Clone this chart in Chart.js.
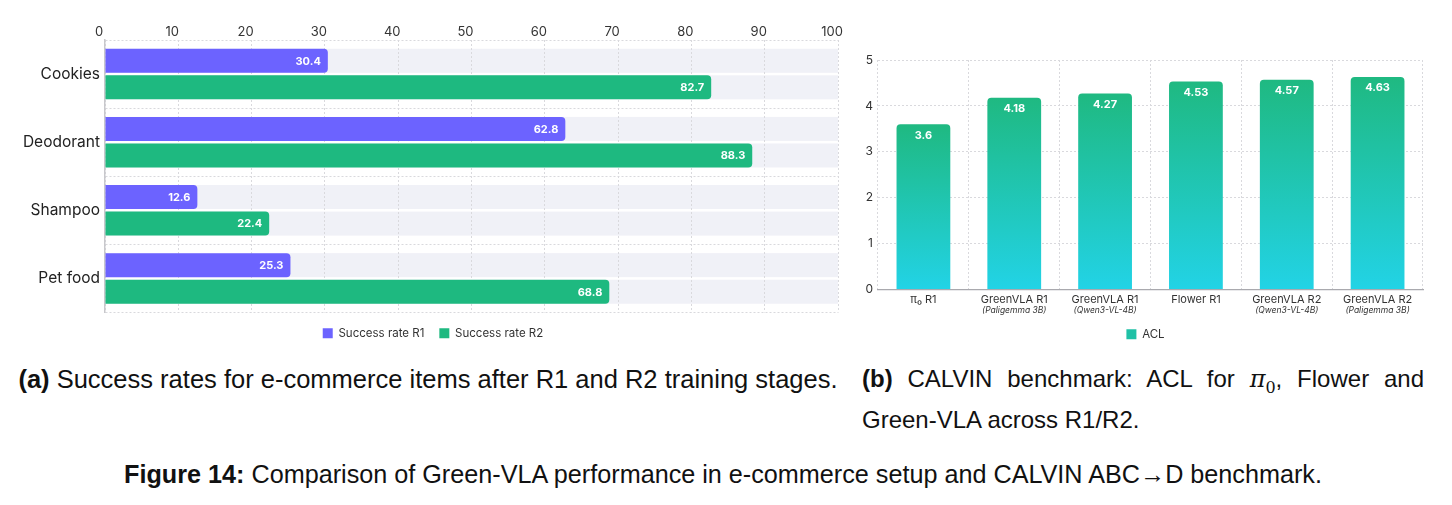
<!DOCTYPE html>
<html>
<head>
<meta charset="utf-8">
<script src="https://cdn.jsdelivr.net/npm/chart.js@4.4.1/dist/chart.umd.min.js"></script>
<style>
  html, body { margin: 0; padding: 0; background: #fff; }
  #page { position: relative; width: 1452px; height: 505px; overflow: hidden; }
  .box { position: absolute; }
  .cap { position: absolute; font-family: "Liberation Sans", Arial, sans-serif; color: #111; white-space: nowrap; }
  #capA { left: 0; top: 364px; width: 856px; text-align: center; font-size: 25.5px; line-height: 30px; }
  #capB { left: 862px; top: 363px; width: 562px; font-size: 24px; line-height: 32px; text-align: justify; text-align-last: left; white-space: normal; }
  #capFig { left: 0; top: 459px; width: 1446px; text-align: center; font-size: 25.2px; line-height: 30px; }
  .pi { font-family: "DejaVu Serif", "Liberation Serif", serif; font-style: italic; }
  .pi sub { font-style: normal; font-size: 16px; }
</style>
</head>
<body>
<div id="page">
  <div class="box" style="left:0; top:0; width:850px; height:349px;"><canvas id="itemsChart"></canvas></div>
  <div class="box" style="left:850px; top:0; width:590px; height:350px;"><canvas id="aclChart"></canvas></div>
  <div class="cap" id="capA"><b>(a)</b> Success rates for e-commerce items after R1 and R2 training stages.</div>
  <div class="cap" id="capB"><b>(b)</b> CALVIN benchmark: ACL for <span class="pi">π<sub>0</sub></span>, Flower and Green-VLA across R1/R2.</div>
  <div class="cap" id="capFig"><b>Figure 14:</b> Comparison of Green-VLA performance in e-commerce setup and CALVIN ABC→D benchmark.</div>
</div>
<script>
// ---- data ----
const itemLabels = ["Cookies", "Deodorant", "Shampoo", "Pet food"];
const rateR1 = [30.4, 62.8, 12.6, 25.3];
const rateR2 = [82.7, 88.3, 22.4, 68.8];
const rateTicks = [0, 10, 20, 30, 40, 50, 60, 70, 80, 90, 100];

const modelNames = ["π₀ R1", "GreenVLA R1", "GreenVLA R1", "Flower R1", "GreenVLA R2", "GreenVLA R2"];
const modelBackbones = ["", "Paligemma 3B", "Qwen3-VL-4B", "", "Qwen3-VL-4B", "Paligemma 3B"];
const aclValues = [3.6, 4.18, 4.27, 4.53, 4.57, 4.63];
const aclTicks = [0, 1, 2, 3, 4, 5];

const FONT = "Inter, 'Noto Sans', sans-serif";
const PURPLE = "#6c63ff";
const GREEN = "#1eb980";
const TEAL = "#1fc1a6";
const GRID = "#d9d9dd";

Chart.defaults.font.family = FONT;
Chart.defaults.color = "#333";
Chart.defaults.animation = false;

// nudge the legend sideways (the source centres it a little off the canvas middle)
const legendShift = {
    id: "legendShift",
    afterLayout(chart, args, opts) {
        const l = chart.legend;
        if (!l || !opts.dx) return;
        l.left += opts.dx;
        l.right += opts.dx;
    }
};

// light grey track behind every horizontal bar, full 0..100 width
const trackPlugin = {
    id: "tracks",
    beforeDraw(chart) {
        const { ctx } = chart;
        const x = chart.scales.x;
        const x0 = x.getPixelForValue(x.min), x1 = x.getPixelForValue(x.max);
        ctx.save();
        ctx.fillStyle = "#f0f1f7";
        chart.data.datasets.forEach(function (ds, i) {
            chart.getDatasetMeta(i).data.forEach(function (bar) {
                ctx.fillRect(x0, bar.y - bar.height / 2, x1 - x0, bar.height);
            });
        });
        ctx.restore();
    }
};

// value written inside the end of each horizontal bar
const endLabelPlugin = {
    id: "endLabels",
    afterDatasetsDraw(chart) {
        const { ctx } = chart;
        ctx.save();
        ctx.font = "700 11px " + FONT;
        ctx.fillStyle = "#fff";
        ctx.textAlign = "right";
        ctx.textBaseline = "middle";
        chart.data.datasets.forEach(function (ds, i) {
            chart.getDatasetMeta(i).data.forEach(function (bar, j) {
                ctx.fillText(String(ds.data[j]), bar.x - 7, bar.y + 0.5);
            });
        });
        ctx.restore();
    }
};

new Chart(document.getElementById("itemsChart"), {
    type: "bar",
    plugins: [legendShift, trackPlugin, endLabelPlugin],
    data: {
        labels: itemLabels,
        datasets: [
            { label: "Success rate R1", data: rateR1, backgroundColor: PURPLE },
            { label: "Success rate R2", data: rateR2, backgroundColor: GREEN }
        ]
    },
    options: {
        indexAxis: "y",
        responsive: true, maintainAspectRatio: false,
        layout: { padding: { top: 0, right: 12, bottom: 0, left: 0 } },
        datasets: { bar: { categoryPercentage: 0.78, barPercentage: 0.905, borderRadius: 4, borderSkipped: "start" } },
        plugins: {
            tooltip: { enabled: false },
            legendShift: { dx: 14 },
            legend: {
                position: "bottom",
                labels: { boxWidth: 10, boxHeight: 10, padding: 15, color: "#333", font: { size: 11.5 } }
            }
        },
        scales: {
            x: {
                position: "top", min: 0, max: 100,
                afterBuildTicks: function (s) { s.ticks = rateTicks.map(v => ({ value: v })); },
                afterFit: function (s) { s.height = 40; },
                ticks: { padding: 0, labelOffset: -6, color: "#333", font: { size: 13 } },
                grid: { color: GRID, drawTicks: false },
                border: { display: false, dash: [2, 2] }
            },
            y: {
                afterFit: function (s) { s.width = 105; },
                ticks: { padding: 5, color: "#222", font: { size: 15.5 } },
                grid: { color: GRID, drawTicks: false },
                border: { display: true, color: "#c8c8cc", width: 1.5, dash: [2, 2] }
            }
        }
    }
});

// ---- right chart: ACL ----
function aclGradient(context) {
    const chart = context.chart;
    if (context.type !== "data" || !chart.chartArea) return TEAL;
    const y = chart.scales.y;
    const top = y.getPixelForValue(context.parsed.y);
    const base = y.getPixelForValue(0);
    const g = chart.ctx.createLinearGradient(0, top, 0, base);
    g.addColorStop(0, "#1fb981");
    g.addColorStop(1, "#22d3e6");
    return g;
}

const topLabelPlugin = {
    id: "topLabels",
    afterDatasetsDraw(chart) {
        const { ctx } = chart;
        ctx.save();
        ctx.font = "700 11px " + FONT;
        ctx.fillStyle = "#fff";
        ctx.textAlign = "center";
        ctx.textBaseline = "middle";
        chart.data.datasets.forEach(function (ds, i) {
            chart.getDatasetMeta(i).data.forEach(function (bar, j) {
                ctx.fillText(String(ds.data[j]), bar.x, bar.y + 11);
            });
        });
        ctx.restore();
    }
};

// italic backbone name under the x tick labels
const backbonePlugin = {
    id: "backbones",
    afterDraw(chart) {
        const { ctx } = chart;
        const x = chart.scales.x;
        ctx.save();
        ctx.font = "italic 8.5px " + FONT;
        ctx.fillStyle = "#333";
        ctx.textAlign = "center";
        ctx.textBaseline = "middle";
        modelBackbones.forEach(function (b, i) {
            if (b) ctx.fillText("(" + b + ")", x.getPixelForTick(i), x.top + 21);
        });
        ctx.restore();
    }
};

new Chart(document.getElementById("aclChart"), {
    type: "bar",
    plugins: [legendShift, topLabelPlugin, backbonePlugin],
    data: {
        labels: modelNames,
        datasets: [{ label: "ACL", data: aclValues, backgroundColor: aclGradient }]
    },
    options: {
        responsive: true, maintainAspectRatio: false,
        layout: { padding: { top: 60, right: 17, bottom: 0, left: 0 } },
        datasets: { bar: { categoryPercentage: 0.8, barPercentage: 0.74, borderRadius: 4, borderSkipped: "start" } },
        plugins: {
            tooltip: { enabled: false },
            legendShift: { dx: 9 },
            legend: {
                position: "bottom",
                labels: {
                    boxWidth: 10, boxHeight: 10, padding: 15, color: "#333", font: { size: 11.5 },
                    generateLabels: function (chart) {
                        const items = Chart.defaults.plugins.legend.labels.generateLabels(chart);
                        items.forEach(function (it) { it.fillStyle = TEAL; it.strokeStyle = TEAL; it.lineWidth = 0; });
                        return items;
                    }
                }
            }
        },
        scales: {
            x: {
                afterFit: function (s) { s.height = 24; },
                ticks: { padding: 4, color: "#333", font: { size: 11 }, maxRotation: 0 },
                grid: { color: GRID, drawTicks: false },
                border: { display: true, color: "#a9a9ae", width: 1.2, dash: [2, 2] }
            },
            y: {
                min: 0, max: 5,
                afterBuildTicks: function (s) { s.ticks = aclTicks.map(v => ({ value: v })); },
                afterFit: function (s) { s.width = 28; },
                ticks: { padding: 5, color: "#333", font: { size: 12 } },
                grid: { color: GRID, drawTicks: false },
                border: { display: false, dash: [2, 2] }
            }
        }
    }
});
</script>
</body>
</html>
